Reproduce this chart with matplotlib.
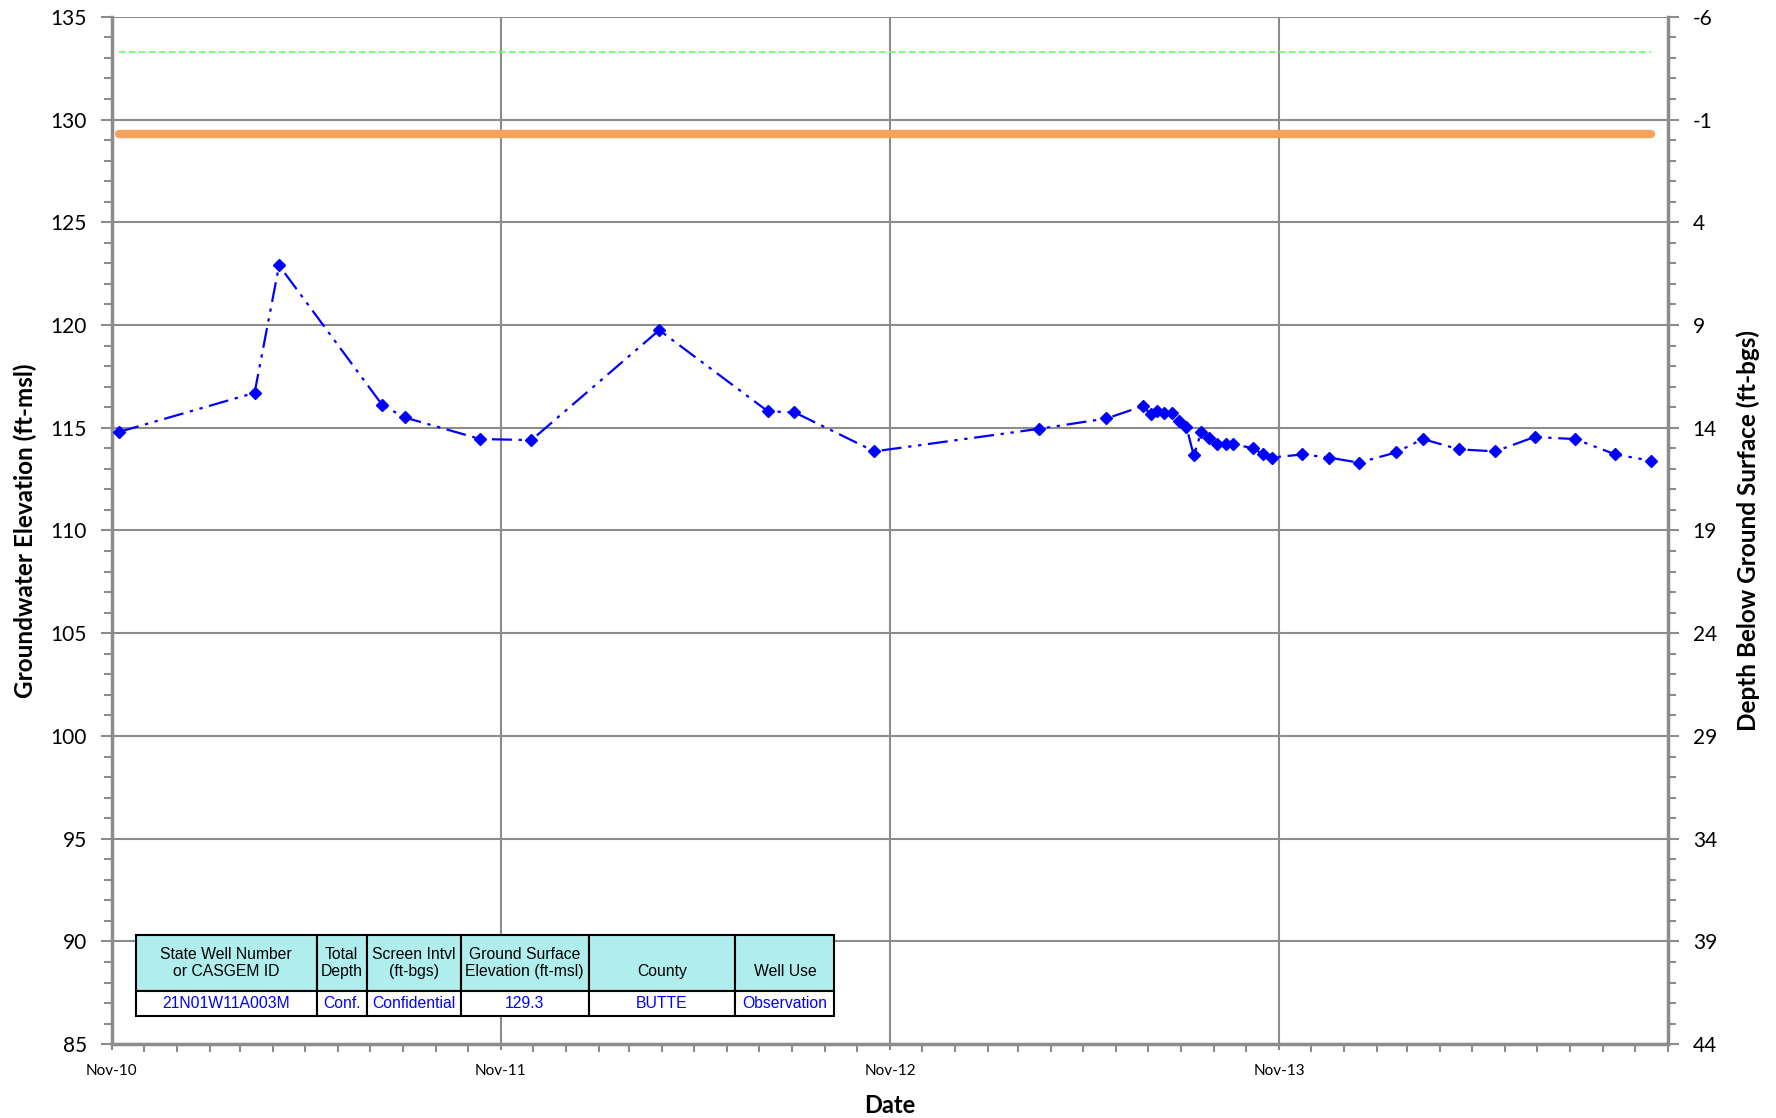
import numpy as np
import pandas as pd
import matplotlib
matplotlib.use('Agg')
import matplotlib.pyplot as plt
import matplotlib.dates as mdates
from matplotlib.ticker import MultipleLocator, FixedLocator

plt.rcParams['font.family'] = ['Lato', 'DejaVu Sans']

# measurement dates and groundwater elevations (ft-msl)
dates = ['2010-11-08', '2011-03-15', '2011-04-07', '2011-07-13', '2011-08-03',
         '2011-10-13', '2011-11-30', '2012-03-29', '2012-07-09', '2012-08-03',
         '2012-10-17', '2013-03-21', '2013-05-23', '2013-06-26', '2013-07-04',
         '2013-07-09', '2013-07-16', '2013-07-24', '2013-07-30', '2013-08-06',
         '2013-08-13', '2013-08-20', '2013-08-27', '2013-09-04', '2013-09-12',
         '2013-09-19', '2013-10-08', '2013-10-17', '2013-10-25', '2013-11-23',
         '2013-12-18', '2014-01-15', '2014-02-19', '2014-03-16', '2014-04-19',
         '2014-05-23', '2014-06-29', '2014-08-06', '2014-09-13', '2014-10-16']
gwe = [114.8, 116.7, 122.9, 116.1, 115.5,
       114.45, 114.4, 119.75, 115.8, 115.75,
       113.85, 114.95, 115.45, 116.05, 115.65,
       115.8, 115.7, 115.7, 115.35, 115.05,
       113.65, 114.8, 114.5, 114.2, 114.2,
       114.2, 114.0, 113.7, 113.55, 113.7,
       113.55, 113.3, 113.8, 114.45, 113.95,
       113.85, 114.55, 114.45, 113.7, 113.4]

ground_surface = 129.3   # ft-msl
ref_point = 133.3        # ft-msl

# well info table
tbl_header = ['State Well Number\nor CASGEM ID', 'Total\nDepth', 'Screen Intvl\n(ft-bgs)',
              'Ground Surface\nElevation (ft-msl)', '\nCounty', '\nWell Use']
tbl_values = ['21N01W11A003M', 'Conf.', 'Confidential', '129.3', 'BUTTE', 'Observation']

x = pd.to_datetime(dates)

fig = plt.figure(figsize=(17.76, 11.18), dpi=100)
ax = fig.add_axes([0.063, 0.066, 0.876, 0.919])

grey = '#8c8c8c'

# reference lines, drawn over the data period
ax.plot([x[0], x[-1]], [ref_point, ref_point], color='#66ff66', lw=1.2, ls=(0, (4, 2)), zorder=3)
ax.plot([x[0], x[-1]], [ground_surface, ground_surface], color='#f5a35c', lw=6,
        solid_capstyle='round', zorder=3)

# groundwater elevation series
ax.plot(x, gwe, color='#0000ff', lw=1.6, ls=(0, (9, 3, 1.5, 3, 1.5, 3)),
        marker='D', ms=6, zorder=4)

# axes
ax.set_ylim(85, 135)
ax.set_xlim(pd.Timestamp('2010-11-01'), pd.Timestamp('2014-11-01'))
ax.yaxis.set_major_locator(MultipleLocator(5))
ax.yaxis.set_minor_locator(MultipleLocator(1))
ax.xaxis.set_major_locator(FixedLocator(mdates.date2num(pd.to_datetime(
    ['2010-11-01', '2011-11-01', '2012-11-01', '2013-11-01']))))
ax.xaxis.set_major_formatter(mdates.DateFormatter('%b-%y'))
ax.xaxis.set_minor_locator(mdates.MonthLocator())

ax.grid(True, which='major', color=grey, lw=1.5)
ax.set_axisbelow(True)
for s in ['left', 'bottom', 'right']:
    ax.spines[s].set_color(grey)
    ax.spines[s].set_linewidth(2.5)
ax.spines['top'].set_visible(False)

ax.tick_params(axis='y', which='major', length=8, width=1.5, color=grey, labelsize=15, pad=10)
ax.tick_params(axis='y', which='minor', length=6, width=1.5, color=grey)
ax.tick_params(axis='x', which='major', length=8, width=1.5, color=grey, labelsize=11,
               direction='inout', pad=10)
ax.tick_params(axis='x', which='minor', length=6, width=1.5, color=grey)

ax.set_ylabel('Groundwater Elevation (ft-msl)', fontsize=17.5, fontweight='bold', labelpad=10)
ax.set_xlabel('Date', fontsize=17, fontweight='bold', labelpad=12)

# depth axis on the right
ax2 = ax.twinx()
ax2.set_ylim(ground_surface - 85, ground_surface - 135)
dticks = ground_surface - np.arange(135, 84, -5)
ax2.set_yticks(dticks)
ax2.set_yticklabels(['%.0f' % t for t in dticks])
ax2.yaxis.set_minor_locator(FixedLocator(ground_surface - np.arange(135, 84, -1)))
ax2.tick_params(axis='y', which='major', length=8, width=1.5, color=grey, labelsize=15, pad=10)
ax2.tick_params(axis='y', which='minor', length=6, width=1.5, color=grey)
for s in ax2.spines.values():
    s.set_visible(False)
ax2.set_ylabel('Depth Below Ground Surface (ft-bgs)', fontsize=17.5, fontweight='bold', labelpad=14)

# well info table
col_w = [181, 50, 94, 128, 147, 99]
tb = ax.table(cellText=[tbl_header, tbl_values], colWidths=col_w, cellLoc='center',
              bbox=[0.0154, 0.0273, 0.449, 0.0789], zorder=6)
tb.auto_set_font_size(False)
for (r, c), cell in tb.get_celld().items():
    cell.set_linewidth(1.5)
    cell.set_edgecolor('black')
    cell.set_height(56 if r == 0 else 25)
    cell.get_text().set_fontfamily(['Liberation Sans', 'DejaVu Sans'])
    cell.get_text().set_fontsize(11.3)
    if r == 0:
        cell.set_facecolor('#b0eeee')
    else:
        cell.set_facecolor('white')
        cell.get_text().set_color('#0000ff')

fig.savefig('out.png', dpi=100)
